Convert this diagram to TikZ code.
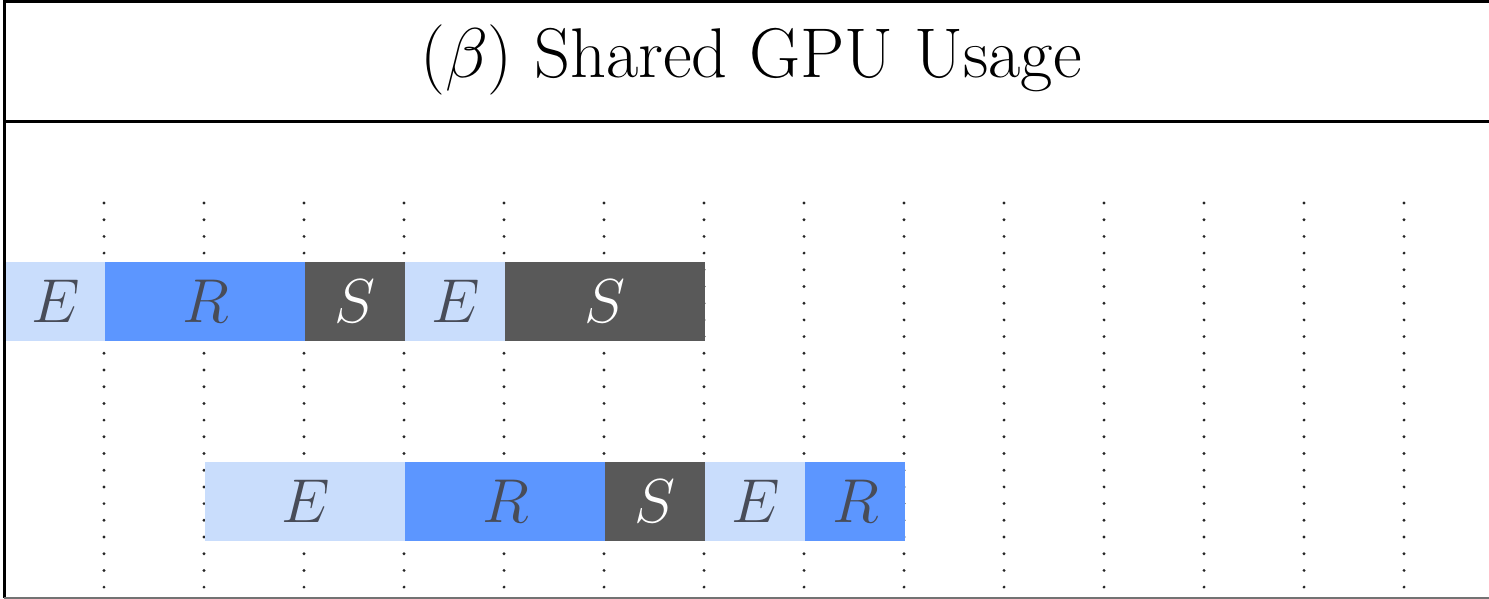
\RequirePackage{fix-cm}
\documentclass[tikz,border=0pt]{standalone}
\begin{document}
\begin{tikzpicture}[x=0.5pt,y=-0.5pt]
\definecolor{phaseE}{RGB}{201,221,252}
\definecolor{phaseR}{RGB}{92,150,255}
\definecolor{phaseS}{RGB}{89,89,89}
\definecolor{inkdark}{RGB}{72,76,88}
\tikzset{
  slot/.style={draw=none, inner sep=0pt, minimum height=39.5pt, anchor=west,
    font=\fontsize{31}{31}\selectfont},
  slotE/.style={slot, fill=phaseE, text=inkdark},
  slotR/.style={slot, fill=phaseR, text=inkdark},
  slotS/.style={slot, fill=phaseS, text=white},
  tick/.style={line width=1.6pt, line cap=round, dash pattern=on 0pt off 8.35pt, black!85},
  frame/.style={line width=1.5pt, black}
}
\useasboundingbox (0,0) rectangle (1489,599);
\fill[white] (0,0) rectangle (1489,599);

% time grid
\foreach \i in {0,...,13}
  \draw[tick] (104+100*\i,203) -- (104+100*\i,598);

% first job
\node[slotE, minimum width=50pt]  (a1) at (5,301)   {$E$};
\node[slotR, minimum width=100pt] (a2) at (105,301) {$R$};
\node[slotS, minimum width=50pt]  (a3) at (305,301) {$S$};
\node[slotE, minimum width=50pt]  (a4) at (405,301) {$E$};
\node[slotS, minimum width=100pt] (a5) at (505,301) {$S$};

% second job
\node[slotE, minimum width=100pt] (b1) at (205,501) {$E$};
\node[slotR, minimum width=100pt] (b2) at (405,501) {$R$};
\node[slotS, minimum width=50pt]  (b3) at (605,501) {$S$};
\node[slotE, minimum width=50pt]  (b4) at (705,501) {$E$};
\node[slotR, minimum width=50pt]  (b5) at (805,501) {$R$};

% frame and title
\draw[frame] (1489,2) -- (4,2) -- (4,598);
\draw[frame] (4,122) -- (1489,122);
\draw[line width=1pt, black!55] (4,597.5) -- (1489,597.5);
\node[font=\fontsize{35.2}{40}\selectfont] (title) at (751,60) {$(\beta)$ Shared GPU Usage};
\end{tikzpicture}
\end{document}
